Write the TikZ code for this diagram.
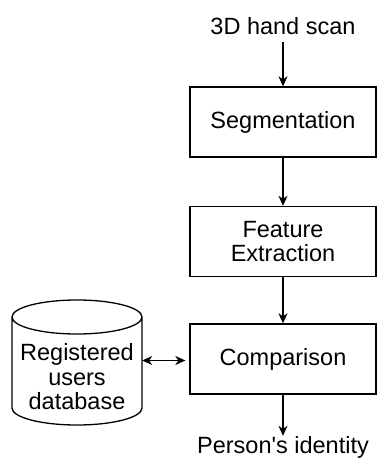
\documentclass[tikz,border=0pt]{standalone}
\usepackage{fontspec}
\setmainfont{Liberation Sans}
\usetikzlibrary{arrows.meta}
\begin{document}
\begin{tikzpicture}[x=1pt,y=-1pt,
  every node/.style={font=\fontsize{23.5}{24.5}\selectfont, align=center, inner sep=0pt},
  stagebox/.style={draw, line width=1.3pt, minimum width=186pt, minimum height=70pt},
  tip/.style={Stealth[length=10pt,width=9pt,inset=3pt]},
  conn/.style={line width=1.3pt, -{Stealth[length=10pt,width=9pt,inset=3pt]}},
  biconn/.style={line width=1.3pt, {Stealth[length=10pt,width=9pt,inset=3pt]}-{Stealth[length=10pt,width=9pt,inset=3pt]}}]
\useasboundingbox (0,0) rectangle (377,474);
\node (in) at (283,26) {3D hand scan};
\node[stagebox] (seg) at (283,122) {Segmentation};
\node[stagebox] (fe) at (283,241.5) {Feature\\Extraction};
\node[stagebox] (cmp) at (283,359) {Comparison};
\node (out) at (283,447) {Person\textquotesingle s identity};
\node[minimum width=130pt, minimum height=125pt] (db) at (77,362.5) {};
\node at (77,377) {Registered\\users\\database};
% cylinder
\draw[line width=1.3pt]
  (12,317) -- (12,408) arc[start angle=180, end angle=360, x radius=65pt, y radius=17pt] -- (142,317)
  (77,317) ellipse[x radius=65pt, y radius=17pt];
\draw[conn] (in.south) ++(0,7) coordinate (ins) (ins) -- (seg.north);
\draw[conn] (seg) -- (fe);
\draw[conn] (fe) -- (cmp);
\draw[conn] (cmp.south) -- (out.north);
\draw[biconn, shorten >=4pt] (db.east |- 0,360.5) -- (cmp.west |- 0,360.5);
\end{tikzpicture}
\end{document}
